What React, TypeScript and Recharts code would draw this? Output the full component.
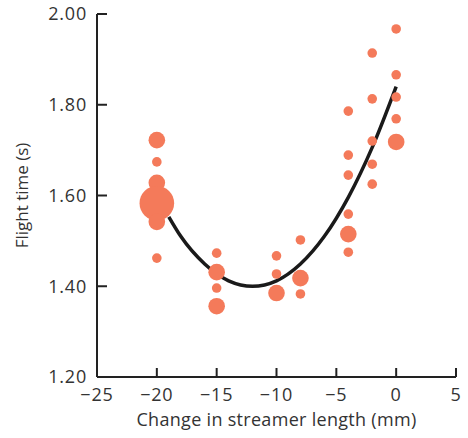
import {
  ComposedChart,
  Scatter,
  Line,
  XAxis,
  YAxis,
  ZAxis,
} from 'recharts';

// streamer change (mm), flight time (s), relative bubble size
const streamerChange = [
  -20, -20, -20, -20, -20, -20,
  -15, -15, -15, -15,
  -10, -10, -10,
  -8, -8, -8,
  -4, -4, -4, -4, -4, -4,
  -2, -2, -2, -2, -2,
  0, 0, 0, 0, 0,
];
const flightTime = [
  1.722, 1.674, 1.628, 1.583, 1.542, 1.462,
  1.473, 1.431, 1.396, 1.356,
  1.467, 1.427, 1.385,
  1.502, 1.418, 1.383,
  1.786, 1.689, 1.645, 1.559, 1.515, 1.475,
  1.914, 1.813, 1.72, 1.669, 1.625,
  1.967, 1.866, 1.817, 1.769, 1.718,
];
const birdCount = [
  3, 1, 3, 13, 3, 1,
  1, 3, 1, 3,
  1, 1, 3,
  1, 3, 1,
  1, 1, 1, 1, 3, 1,
  1, 1, 1, 1, 1,
  1, 1, 1, 1, 3,
];

// fitted curve
const curveX = [-19, -18, -16, -14, -12, -10, -8, -6, -4, -2, 0];
const curveY = [1.553, 1.51, 1.449, 1.412, 1.4, 1.412, 1.449, 1.51, 1.596, 1.706, 1.84];

const xTicks = [-25, -20, -15, -10, -5, 0, 5];
const yTicks = [1.2, 1.4, 1.6, 1.8, 2.0];

const birds = streamerChange.map((x, i) => ({ x, y: flightTime[i], z: birdCount[i] }));
const curve = curveX.map((x, i) => ({ x, y: curveY[i] }));

const FONT = '"Open Sans", sans-serif';
const tickStyle = { fill: '#333', fontSize: 18, fontFamily: FONT, letterSpacing: 0.8 };

export default function App() {
  return (
    <div style={{ position: 'absolute', left: 0, top: 0 }}>
      <ComposedChart
        width={468}
        height={438}
        margin={{ top: 14, right: 12, left: 0, bottom: 0 }}
      >
        <XAxis
          type="number"
          dataKey="x"
          domain={[-25, 5]}
          ticks={xTicks}
          height={61}
          tickSize={-9}
          tickMargin={20}
          stroke="#222"
          strokeWidth={2}
          tick={tickStyle}
          tickFormatter={(v) => String(v).replace('-', '\u2212')}
          interval={0}
          label={{
            value: 'Change in streamer length (mm)',
            position: 'insideBottom',
            offset: 12,
            style: { fill: '#333', fontSize: 18, fontFamily: FONT, letterSpacing: 0.3 },
          }}
        />
        <YAxis
          type="number"
          dataKey="y"
          domain={[1.2, 2.0]}
          ticks={yTicks}
          width={97}
          tickSize={-10}
          tickMargin={20}
          stroke="#222"
          strokeWidth={2}
          tick={tickStyle}
          tickFormatter={(v) => v.toFixed(2)}
          interval={0}
          label={{
            value: 'Flight time (s)',
            angle: -90,
            position: 'insideLeft',
            offset: 22,
            style: { fill: '#333', fontSize: 17, fontFamily: FONT, textAnchor: 'middle' },
          }}
        />
        <ZAxis type="number" dataKey="z" domain={[0, 13]} range={[0, 940]} />
        <Scatter
          data={birds}
          fill="#F47A5A"
          isAnimationActive={false}
        />
        <Line
          data={curve}
          dataKey="y"
          type="monotone"
          stroke="#1a1a1a"
          strokeWidth={3.5}
          dot={false}
          activeDot={false}
          isAnimationActive={false}
        />
      </ComposedChart>
    </div>
  );
}
